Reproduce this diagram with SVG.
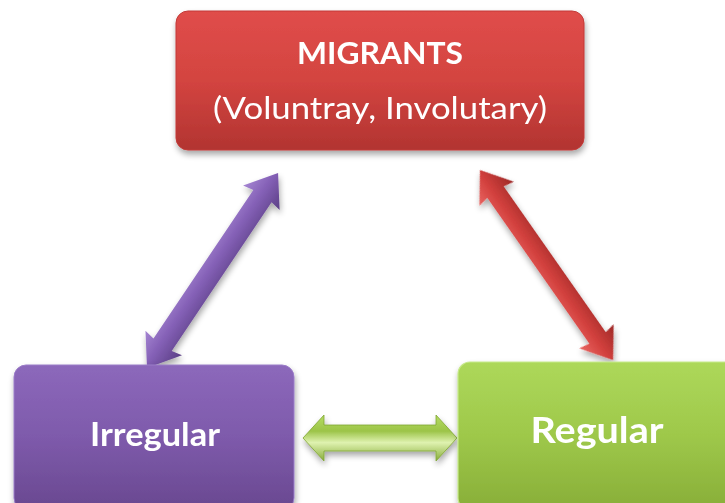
<svg xmlns="http://www.w3.org/2000/svg" width="725" height="503" viewBox="0 0 725 503">
<defs>
<style>
.t{fill:#fff;font-family:Lato,"Open Sans","Liberation Sans",sans-serif;text-anchor:middle}
.b{font-weight:bold}
</style>
<filter id="sh" x="-20%" y="-20%" width="140%" height="140%">
<feGaussianBlur in="SourceAlpha" stdDeviation="3"/>
<feOffset dx="1" dy="4" result="o"/>
<feComponentTransfer><feFuncA type="linear" slope="0.35"/></feComponentTransfer>
<feMerge><feMergeNode/><feMergeNode in="SourceGraphic"/></feMerge>
</filter>
<linearGradient id="gRed" x1="0" y1="0" x2="0" y2="1">
<stop offset="0" stop-color="#e04d4a"/><stop offset="0.5" stop-color="#d34440"/><stop offset="1" stop-color="#b23431"/>
</linearGradient>
<linearGradient id="gPur" x1="0" y1="0" x2="0" y2="1">
<stop offset="0" stop-color="#8c68bb"/><stop offset="0.5" stop-color="#7e5aab"/><stop offset="1" stop-color="#694890"/>
</linearGradient>
<linearGradient id="gGrn" x1="0" y1="0" x2="0" y2="1">
<stop offset="0" stop-color="#add85a"/><stop offset="0.5" stop-color="#9ec84a"/><stop offset="1" stop-color="#88ae38"/>
</linearGradient>
<linearGradient id="aPur" gradientUnits="userSpaceOnUse" x1="0" y1="-22" x2="0" y2="22">
<stop offset="0" stop-color="#a585d2"/><stop offset="0.45" stop-color="#8460b6"/><stop offset="1" stop-color="#5b3f85"/>
</linearGradient>
<linearGradient id="aRed" gradientUnits="userSpaceOnUse" x1="0" y1="-21" x2="0" y2="21">
<stop offset="0" stop-color="#9c2826"/><stop offset="0.55" stop-color="#d2403d"/><stop offset="1" stop-color="#e96562"/>
</linearGradient>
<linearGradient id="aGrn" gradientUnits="userSpaceOnUse" x1="0" y1="-23" x2="0" y2="23">
<stop offset="0" stop-color="#b5dc63"/><stop offset="0.35" stop-color="#9cc448"/><stop offset="0.6" stop-color="#dff2b0"/><stop offset="1" stop-color="#86ac38"/>
</linearGradient>
</defs>

<g id="connectors" filter="url(#sh)">
<polygon transform="translate(147,368) rotate(-56.1)" fill="url(#aPur)" points="0,0 30,-22 28,-11 207,-11 205,-22 235,0 205,22 207,11 28,11 30,22"/>
<polygon transform="translate(480,170) rotate(55)" fill="url(#aRed)" points="0,0 29,-21 27,-10 205,-10 203,-21 232,0 203,21 205,10 27,10 29,21"/>
<polygon transform="translate(303,438)" fill="url(#aGrn)" stroke="#7fa531" stroke-width="0.8" points="0,0 21,-23 21,-13 133,-13 133,-23 154,0 133,23 133,13 21,13 21,23"/>
</g>

<g id="migrants" filter="url(#sh)">
<rect x="176" y="11" width="408" height="139" rx="12" fill="url(#gRed)" stroke="#c23b38" stroke-width="1"/>
<text class="t b" x="380" y="64" font-size="31" textLength="166" lengthAdjust="spacingAndGlyphs">MIGRANTS</text>
<text class="t" x="380" y="119" font-size="31" textLength="334" lengthAdjust="spacingAndGlyphs">(Voluntray, Involutary)</text>
</g>

<g id="irregular" filter="url(#sh)">
<rect x="14" y="365" width="280" height="145" rx="12" fill="url(#gPur)" stroke="#9a7cc8" stroke-width="1"/>
<text class="t b" x="155" y="446" font-size="33" textLength="130" lengthAdjust="spacingAndGlyphs">Irregular</text>
</g>

<g id="regular" filter="url(#sh)">
<rect x="458" y="362" width="280" height="148" rx="12" fill="url(#gGrn)" stroke="#c6e98a" stroke-width="1.2"/>
<text class="t b" x="597" y="443" font-size="37" textLength="133" lengthAdjust="spacingAndGlyphs">Regular</text>
</g>
</svg>
